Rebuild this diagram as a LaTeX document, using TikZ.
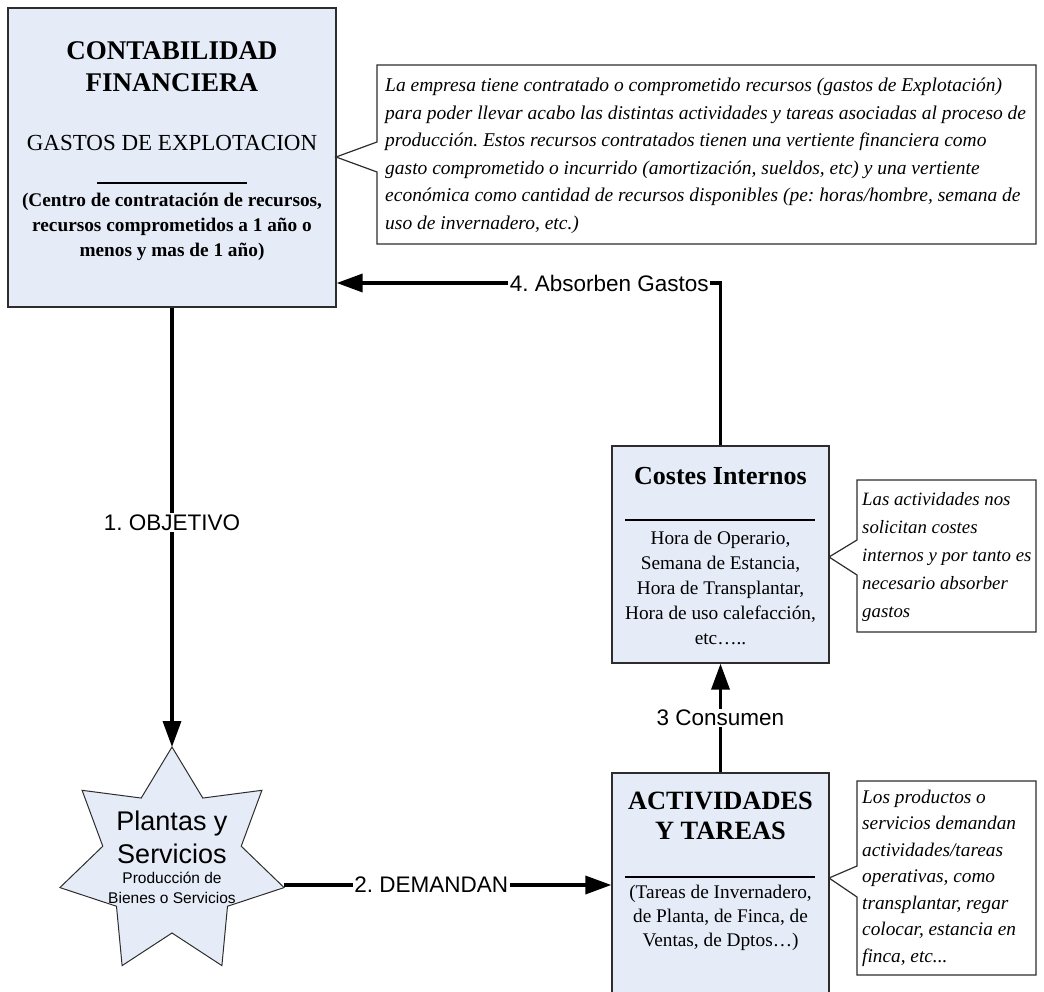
\documentclass[tikz,border=0pt]{standalone}
\usepackage{fontspec}
\setmainfont{Liberation Serif}
\newfontfamily\arialf{Liberation Sans}
\usetikzlibrary{arrows.meta,shapes.geometric,calc}
\definecolor{boxfill}{RGB}{230,236,247}
\definecolor{edgegray}{RGB}{45,45,45}
\frenchspacing
\begin{document}
\frenchspacing
\begin{tikzpicture}[x=1pt,y=-1pt,
  blockbox/.style={draw=edgegray, line width=1.3pt, fill=boxfill, rectangle, inner sep=0pt},
  conn/.style={line width=3.5pt, -{Triangle[length=26pt,width=18pt]}},
  clabel/.style={fill=white, inner sep=1.5pt, font=\arialf\fontsize{22.5}{26}\selectfont},
  callout/.style={draw=edgegray, line width=1.2pt, fill=white, line join=miter},
  rulestyle/.style={line width=1.3pt},
  calltext/.style={anchor=west, align=left, inner sep=0pt, font=\itshape\fontsize{19.5}{27.5}\selectfont}
]
\useasboundingbox (0,0) rectangle (1044,992);

% ---- main blocks ----
\node[blockbox, minimum width=328pt, minimum height=299pt] (cf) at (172,157.5) {};
\node[blockbox, minimum width=217pt, minimum height=217pt] (ci) at (720.5,554.5) {};
\node[blockbox, minimum width=217pt, minimum height=232pt] (act) at (720.5,889) {};
\node[draw=edgegray, line width=1pt, fill=boxfill, star, star points=7, star point ratio=1.62,
      minimum size=230pt, inner sep=0pt, outer sep=0pt] (ps) at (172,862) {};

% ---- texts in Contabilidad ----
\node[font=\bfseries\fontsize{27}{32}\selectfont, align=center, inner sep=0pt] (cft) at (172,67) {CONTABILIDAD\\FINANCIERA};
\node[font=\fontsize{23}{27}\selectfont, inner sep=0pt] (cfg) at (172,143) {GASTOS DE EXPLOTACION};
\coordinate (cfr1) at (97,183);
\coordinate (cfr2) at (247,183);
\draw[rulestyle] (cfr1) -- (cfr2);
\node[font=\bfseries\fontsize{19.3}{25}\selectfont, align=center, inner sep=0pt] (cfb) at (172,227) {(Centro de contratación de recursos,\\recursos comprometidos a 1 año o\\menos y mas de 1 año)};

% ---- texts in Costes Internos ----
\node[font=\bfseries\fontsize{26}{30}\selectfont, inner sep=0pt] (cit) at (720.5,476) {Costes Internos};
\coordinate (cir1) at (625,520);
\coordinate (cir2) at (815,520);
\draw[rulestyle] (cir1) -- (cir2);
\node[font=\fontsize{19.3}{25}\selectfont, align=center, inner sep=0pt] (cib) at (720.5,588) {Hora de Operario,\\Semana de Estancia,\\Hora de Transplantar,\\Hora de uso calefacción,\\etc…..};

% ---- texts in Actividades ----
\node[font=\bfseries\fontsize{26.4}{30}\selectfont, align=center, inner sep=0pt] (actt) at (720.5,816) {ACTIVIDADES\\Y TAREAS};
\coordinate (actr1) at (625,877);
\coordinate (actr2) at (815,877);
\draw[rulestyle] (actr1) -- (actr2);
\node[font=\fontsize{19.3}{24}\selectfont, align=center, inner sep=0pt] (actb) at (720.5,918) {(Tareas de Invernadero,\\de Planta, de Finca, de\\Ventas, de Dptos…)};

% ---- star text ----
\node[font=\arialf\fontsize{27}{33}\selectfont, align=center, inner sep=0pt] (pst) at (172,837) {Plantas y\\Servicios};
\node[font=\arialf\fontsize{15.5}{19.5}\selectfont, align=center, inner sep=0pt] (pss) at (172,888) {Producción de\\Bienes o Servicios};

% ---- connectors ----
\draw[conn] (cf.south) -- node[clabel, pos=0.49] {1. OBJETIVO} (ps.north);
\coordinate (psr) at (284,885);
\draw[conn] (psr) -- node[clabel, pos=0.45] {2. DEMANDAN} (psr -| act.west);
\draw[conn] (act.north) -- node[clabel, midway] {3 Consumen} (ci.south);
\coordinate (c4) at (720.5,283);
\draw[conn] (ci.north) -- (c4) -- node[clabel, pos=0.29] {4. Absorben Gastos} (c4 -| cf.east);

% ---- callouts ----
\coordinate (k1tip) at (336,157);
\draw[callout] (377,65) -- (1036,65) -- (1036,244) -- (377,244) -- (377,172) -- (k1tip) -- (377,142) -- cycle;
\node[calltext] (k1) at (385,156) {La empresa tiene contratado o comprometido recursos (gastos de Explotación)\\para poder llevar acabo las distintas actividades y tareas asociadas al proceso de\\producción. Estos recursos contratados tienen una vertiente financiera como\\gasto comprometido o incurrido (amortización, sueldos, etc) y una vertiente\\económica como cantidad de recursos disponibles (pe: horas/hombre, semana de\\uso de invernadero, etc.)};

\coordinate (k2tip) at (829,557);
\draw[callout] (857,480) -- (1036,480) -- (1036,632) -- (857,632) -- (857,575) -- (k2tip) -- (857,540) -- cycle;
\node[calltext, font=\itshape\fontsize{18.8}{28}\selectfont] (k2) at (862,557) {Las actividades nos\\solicitan costes\\internos y por tanto es\\necesario absorber\\gastos};

\coordinate (k3tip) at (829,878);
\draw[callout] (857,781) -- (1036,781) -- (1036,975) -- (857,975) -- (857,897) -- (k3tip) -- (857,866) -- cycle;
\node[calltext, font=\itshape\fontsize{19.3}{26.5}\selectfont] (k3) at (862,878) {Los productos o\\servicios demandan\\actividades/tareas\\operativas, como\\transplantar, regar\\colocar, estancia en\\finca, etc...};
\end{tikzpicture}
\end{document}
